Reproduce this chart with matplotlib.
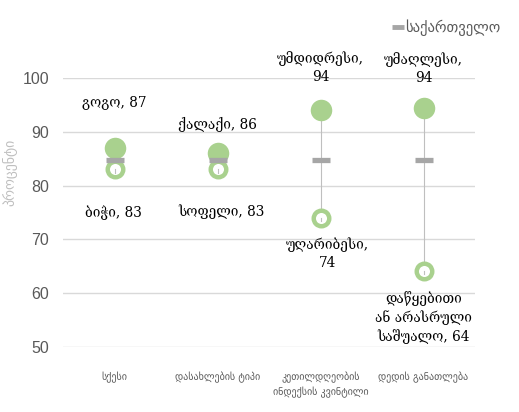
import matplotlib
matplotlib.use("Agg")
import matplotlib.pyplot as plt
from matplotlib.lines import Line2D

categories = ["სქესი", "დასახლების ტიპი", "კეთილდღეობის\nინდექსის კვინტილი", "დედის განათლება"]
high_values = [87, 86, 94, 94.4]
low_values = [83, 83, 74, 64.2]
georgia_value = [84.7, 84.7, 84.7, 84.7]
high_labels = ["გოგო, 87", "ქალაქი, 86", "უმდიდრესი,\n94", "უმაღლესი,\n94"]
low_labels = ["ბიჭი, 83", "სოფელი, 83", "უღარიბესი,\n74", "დაწყებითი\nან არასრული\nსაშუალო, 64"]
yticks = [50, 60, 70, 80, 90, 100]

green = "#A9D18E"
gray = "#A6A6A6"
textgray = "#595959"

fig = plt.figure(figsize=(5.19, 4.12), dpi=100)
ax = fig.add_axes([63/519, 1 - 347/412, (475-63)/519, (347-78)/412])
x = list(range(len(categories)))
ax.set_xlim(-0.5, len(categories) - 0.5)
ax.set_ylim(50, 100)
ax.set_yticks(yticks)
ax.grid(axis="y", color="#D9D9D9", linewidth=1)
ax.set_axisbelow(True)
for s in ax.spines.values():
    s.set_visible(False)
ax.tick_params(axis="y", length=0, labelsize=11.5, labelcolor=textgray, pad=10)
for t in ax.get_yticklabels():
    t.set_family("Liberation Sans")
ax.tick_params(axis="x", length=0, labelsize=7.2, labelcolor=textgray, pad=18)
ax.set_xticks(x)
ax.set_xticklabels(categories, family="DejaVu Sans", linespacing=1.4)
ax.set_ylabel("პროცენტი", color="#BFBFBF", fontsize=10)
ax.yaxis.set_label_coords(-(63 - 17) / 412, (347 - 172) / 269)

for i in x:
    ax.plot([i, i], [low_values[i], high_values[i]], color="#BFBFBF", lw=0.8, zorder=2, clip_on=False)
ax.scatter(x, high_values, s=240, color=green, zorder=3, clip_on=False, linewidths=0)
ax.scatter(x, low_values, s=125, facecolor="white", edgecolor=green, linewidths=3.2, zorder=3, clip_on=False)
for i in x:
    ax.plot([i, i], [low_values[i], low_values[i] - 0.6], color="#BFBFBF", lw=0.8, zorder=4)
ax.scatter(x, georgia_value, marker="_", s=170, color=gray, linewidths=3.8, zorder=5, clip_on=False)

hi_off = [(0, 27), (0, 15), (0, 19), (0, 17)]
lo_off = [(-1, -26), (3, -25), (5, -14), (0, -15)]
for i in x:
    ax.annotate(high_labels[i], (i, high_values[i]), xytext=hi_off[i], textcoords="offset points",
                ha="center", va="bottom", fontsize=9.8, family="DejaVu Serif", linespacing=1.35)
    ax.annotate(low_labels[i], (i, low_values[i]), xytext=lo_off[i], textcoords="offset points",
                ha="center", va="top", fontsize=9.8, family="DejaVu Serif", linespacing=1.35)

handle = Line2D([], [], color=gray, marker="_", linestyle="none", markersize=9, markeredgewidth=3.5)
fig.legend([handle], ["საქართველო"], loc="center", bbox_to_anchor=(447/519, 1 - 28/412),
           frameon=False, fontsize=10.5, labelcolor=textgray, handlelength=0.6, handletextpad=0.2)

fig.savefig("out.png", dpi=100)
